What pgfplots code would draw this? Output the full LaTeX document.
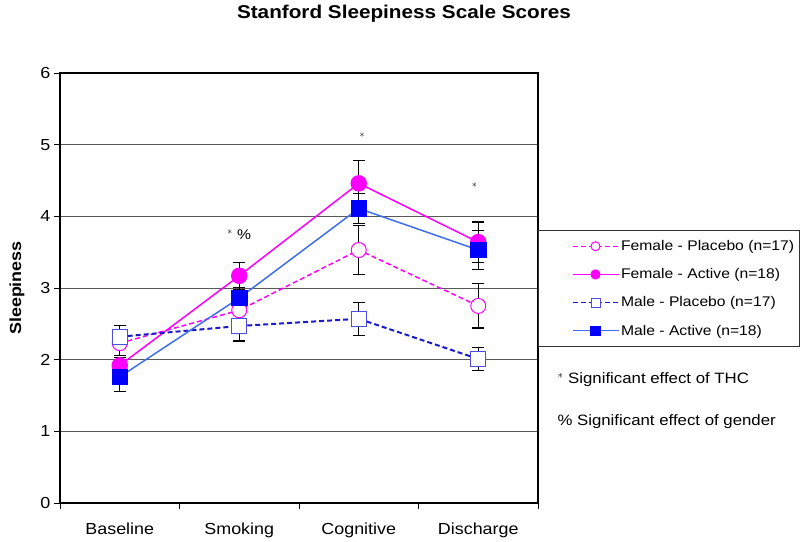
\documentclass[border=0pt]{standalone}
\usepackage{pgfplots}
\pgfplotsset{compat=1.18}
\usepackage{fontspec}
\setmainfont{Liberation Sans}[FakeStretch=1.12]
\definecolor{fem}{HTML}{FF00FF}
\definecolor{mplac}{HTML}{1A1ACC}
\definecolor{mplacm}{HTML}{4D4DE6}
\definecolor{mact}{HTML}{3F6FF0}
\definecolor{mactm}{HTML}{0000FF}
\pgfplotstableread{
x y e
1 2.23 0.17
2 2.69 0.15
3 3.53 0.34
4 2.75 0.31
}\fplac
\pgfplotstableread{
x y e
1 1.92 0.11
2 3.17 0.19
3 4.46 0.32
4 3.64 0.28
}\fact
\pgfplotstableread{
x y e
1 2.32 0.16
2 2.47 0.21
3 2.57 0.23
4 2.01 0.16
}\mplac
\pgfplotstableread{
x y e
1 1.76 0.20
2 2.86 0.15
3 4.11 0.21
4 3.53 0.27
}\mact
\begin{document}
\begin{tikzpicture}[x=1pt,y=1pt]
\useasboundingbox (0,0) rectangle (800,541);
\begin{axis}[
  at={(60pt,38pt)}, anchor=south west,
  scale only axis, width=478pt, height=430pt,
  xmin=0.5, xmax=4.5, ymin=0, ymax=6,
  ytick={0,...,6},
  ymajorgrids, grid style={black!65, line width=0.9pt},
  axis line style={black, line width=1.1pt},
  xtick={0.5,1.5,2.5,3.5,4.5}, xticklabels={},
  extra x ticks={1,2,3,4},
  extra x tick labels={Baseline,Smoking,Cognitive,Discharge},
  extra x tick style={major tick length=0pt, grid=none},
  tick align=outside, tick pos=left,
  major tick length=6pt,
  tick style={black, line width=0.9pt},
  xticklabel style={font=\fontsize{16}{18}\selectfont, yshift=-16pt},
  yticklabel style={font=\fontsize{16}{18}\selectfont},
  /pgf/number format/assume math mode=true,
  error bars/y dir=both, error bars/y explicit,
  error bars/error bar style={black, line width=1.3pt, solid},
  error bars/error mark options={rotate=90, black, mark size=6pt, line width=1.3pt, solid},
  legend style={at={(1,0.635)}, anchor=north west, draw=black!80, line width=1pt,
     font=\fontsize{14}{16}\selectfont, inner xsep=3pt, inner ysep=8pt,
     row sep=12.5pt, cells={anchor=west}},
  legend image code/.code={%
     \path[draw=none] (0pt,0pt) -- (31pt,0pt);
     \draw[mark repeat=2, mark phase=2, mark size=4.5pt, line width=1.2pt]
        plot coordinates {(31pt,0pt) (54pt,0pt) (77pt,0pt)};},
]
\addplot[fem, line width=1.5pt, dash pattern=on 5pt off 3pt, mark=*, mark size=7.5pt,
  mark options={solid, fill=white, draw=fem, line width=1pt}]
  table[x=x, y=y, y error=e] {\fplac};
\addlegendentry{Female - Placebo (n=17)}
\addplot[fem, line width=1.5pt, mark=*, mark size=7.5pt,
  mark options={solid, fill=fem, draw=fem}]
  table[x=x, y=y, y error=e] {\fact};
\addlegendentry{Female - Active (n=18)}
\addplot[mplac, line width=2pt, dash pattern=on 5pt off 3pt, mark=square*, mark size=7.5pt,
  mark options={solid, fill=white, draw=mplacm, line width=1pt}]
  table[x=x, y=y, y error=e] {\mplac};
\addlegendentry{Male - Placebo (n=17)}
\addplot[mact, line width=1.5pt, mark=square*, mark size=7.5pt,
  mark options={solid, fill=mactm, draw=mactm}]
  table[x=x, y=y, y error=e] {\mact};
\addlegendentry{Male - Active (n=18)}
\node[font=\fontsize{14}{16}\selectfont] at (axis cs:2,3.74) {$^{*}$ \%};
\node[font=\fontsize{14}{16}\selectfont] at (axis cs:3.03,5.1) {$^{*}$};
\node[font=\fontsize{14}{16}\selectfont] at (axis cs:3.97,4.4) {$^{*}$};
\end{axis}
\node[font=\bfseries\fontsize{18.5}{21}\selectfont] at (404,527) {Stanford Sleepiness Scale Scores};
\node[font=\bfseries\fontsize{16}{18}\selectfont, rotate=90] at (17,253) {Sleepiness};
\node[anchor=west, font=\fontsize{15}{17}\selectfont] at (554,161) {$^{*}$ Significant effect of THC};
\node[anchor=west, font=\fontsize{15}{17}\selectfont] at (554,119) {\% Significant effect of gender};
\end{tikzpicture}
\end{document}
